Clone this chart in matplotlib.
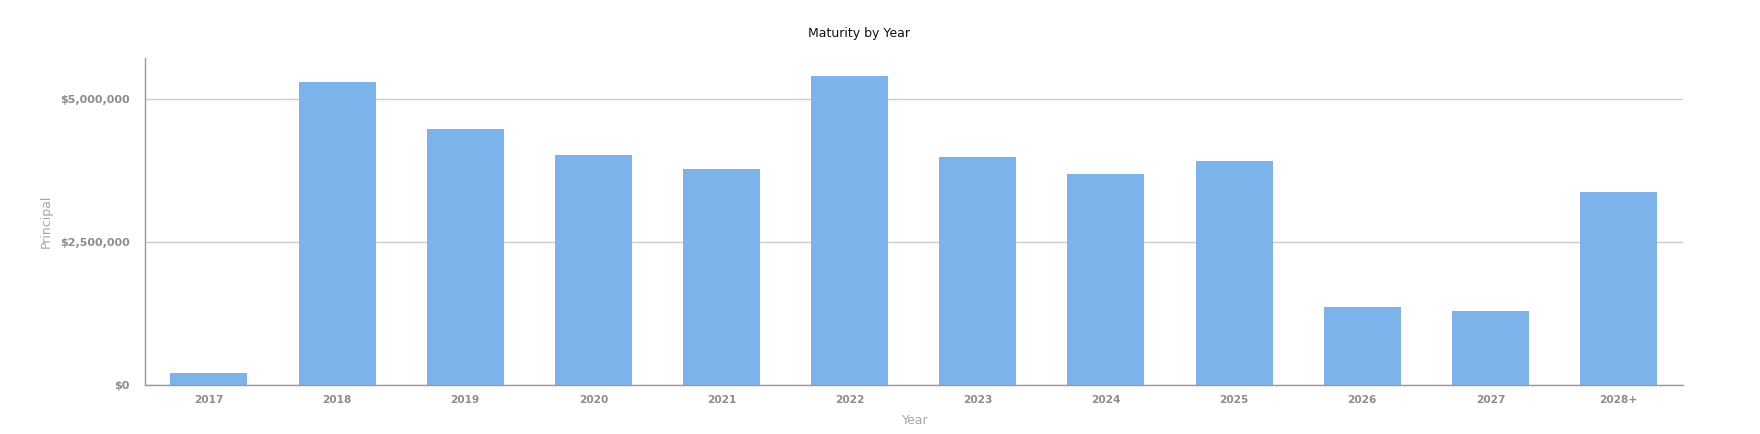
import matplotlib
matplotlib.use("Agg")
import matplotlib.pyplot as plt
from matplotlib.ticker import FuncFormatter

years = ["2017", "2018", "2019", "2020", "2021", "2022",
         "2023", "2024", "2025", "2026", "2027", "2028+"]
principal = [215_000, 5_290_000, 4_470_000, 4_020_000, 3_780_000, 5_410_000,
             3_980_000, 3_690_000, 3_920_000, 1_370_000, 1_290_000, 3_370_000]
y_ticks = [0, 2_500_000, 5_000_000]

BAR = "#7cb3ea"
LABEL = "#8c8c8c"

fig = plt.figure(figsize=(17.6, 4.34), dpi=100)
ax = fig.add_axes([0.0823, 0.1129, 0.8737, 0.7525])

x = range(len(years))
ax.bar(x, principal, width=0.6, color=BAR, zorder=2)

ax.set_xlim(-0.5, len(years) - 0.5)
ax.set_ylim(0, 5_710_000)
ax.set_xticks(list(x))
ax.set_xticklabels(years)
ax.set_yticks(y_ticks)
ax.yaxis.set_major_formatter(FuncFormatter(lambda v, _: f"${v:,.0f}"))

ax.grid(axis="y", color="#cccccc", linewidth=1, zorder=0)
ax.tick_params(length=0, labelcolor=LABEL)
ax.tick_params(axis="y", pad=11, labelsize=8)
ax.tick_params(axis="x", pad=7, labelsize=7.6)
for lbl in ax.get_xticklabels() + ax.get_yticklabels():
    lbl.set_fontweight("bold")

for side in ["top", "right"]:
    ax.spines[side].set_visible(False)
for side in ["left", "bottom"]:
    ax.spines[side].set_color("#999999")
    ax.spines[side].set_linewidth(1)

fig.text(0.026, 0.491, "Principal", rotation=90, ha="center", va="center",
         fontsize=9, color="#a6a6a6")
fig.text(0.52, 0.030, "Year", ha="center", va="center",
         fontsize=9, color="#a6a6a6")
fig.text(0.488, 0.922, "Maturity by Year", ha="center", va="center",
         fontsize=9, color="#111111")

fig.savefig("out.png", dpi=100)
